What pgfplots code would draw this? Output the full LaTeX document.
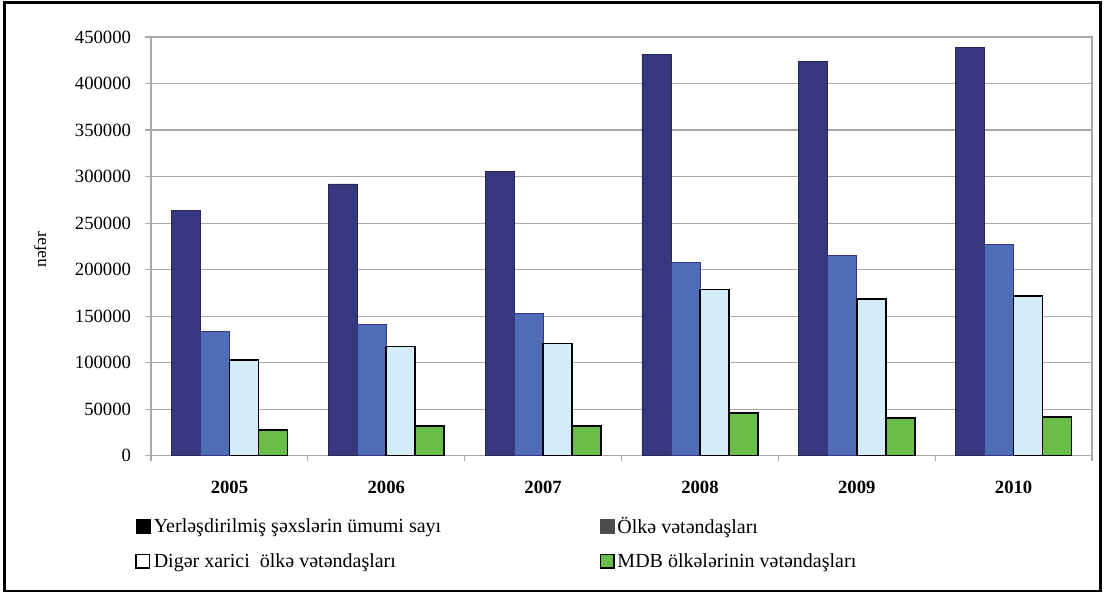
\documentclass[border=0pt]{standalone}
\usepackage{fontspec}
\setmainfont{Liberation Serif}
\usepackage{pgfplots}
\pgfplotsset{compat=1.18}
\definecolor{cDark}{HTML}{36377F}
\definecolor{cBlue}{HTML}{4F6DB6}
\definecolor{cLight}{HTML}{D3ECF7}
\definecolor{cGreen}{HTML}{6ABD48}
\definecolor{cGrid}{HTML}{A8A8A8}
\begin{document}
\begin{tikzpicture}
\useasboundingbox (0,0) rectangle (828.75pt,446.25pt);
\draw[line width=2.2pt] (3.5pt,3pt) rectangle (825.5pt,444.5pt);
\node[rotate=90, font=\fontsize{13}{13}\selectfont, inner sep=0pt] at (30pt,259pt) {nəfər};
\begin{axis}[
  at={(113.25pt,104.5pt)}, anchor=south west,
  scale only axis, width=705.75pt, height=314pt,
  xmin=-0.5, xmax=5.5, ymin=0, ymax=450000,
  ybar=0pt, bar width=21.75pt,
  xtick={0,1,2,3,4,5},
  xticklabels={2005,2006,2007,2008,2009,2010},
  minor xtick={-0.5,0.5,1.5,2.5,3.5,4.5,5.5},
  major x tick style={draw=none},
  minor tick length=4pt,
  ytick={0,50000,...,450000},
  major tick length=4.5pt,
  tick align=outside,
  xtick pos=bottom, ytick pos=left,
  tick style={cGrid, line width=0.8pt},
  ymajorgrids, grid style={cGrid, line width=0.8pt},
  axis line style={cGrid, line width=0.8pt},
  scaled y ticks=false,
  /pgf/number format/fixed,
  /pgf/number format/precision=0,
  /pgf/number format/assume math mode=true,
  /pgf/number format/1000 sep={},
  yticklabel style={font=\fontsize{14}{14}\selectfont, xshift=-7pt},
  xticklabel style={font=\fontsize{14}{14}\selectfont\bfseries, yshift=-11pt},
  legend columns=2,
  legend cell align=left,
  legend style={at={(rel axis cs:-0.017,-0.14)}, anchor=north west, draw=none, fill=none,
    inner sep=0pt, row sep=9.5pt, font=\fontsize{15}{15}\selectfont,
    /tikz/every even column/.append style={column sep=117pt}},
]
\addplot[fill=cDark, draw=cDark!70!black, line width=0.6pt,
  legend image code/.code={\fill[black] (0pt,-5.5pt) rectangle (11pt,5.5pt);}]
  coordinates {(0,263500) (1,292100) (2,305800) (3,430900) (4,423300) (5,438700)};
\addplot[fill=cBlue, draw=cDark, line width=0.6pt,
  legend image code/.code={\fill[black!70] (0pt,-5.5pt) rectangle (10pt,5.5pt);}]
  coordinates {(0,133700) (1,140900) (2,152700) (3,207800) (4,215300) (5,227100)};
\addplot[fill=cLight, draw=black, line width=1.2pt,
  legend image code/.code={\draw[black, fill=white, line width=1.2pt] (0pt,-5pt) rectangle (10pt,5pt);}]
  coordinates {(0,102600) (1,117500) (2,120400) (3,178800) (4,168100) (5,171300)};
\addplot[fill=cGreen, draw=black, line width=1.2pt,
  legend image code/.code={\draw[black, fill=cGreen, line width=1.2pt] (0pt,-5pt) rectangle (10pt,5pt);}]
  coordinates {(0,27500) (1,31600) (2,31600) (3,45800) (4,40400) (5,41500)};
\legend{Yerləşdirilmiş şəxslərin ümumi sayı, Ölkə vətəndaşları, Digər xarici\ \ ölkə vətəndaşları, MDB ölkələrinin vətəndaşları}
\end{axis}
\end{tikzpicture}
\end{document}
